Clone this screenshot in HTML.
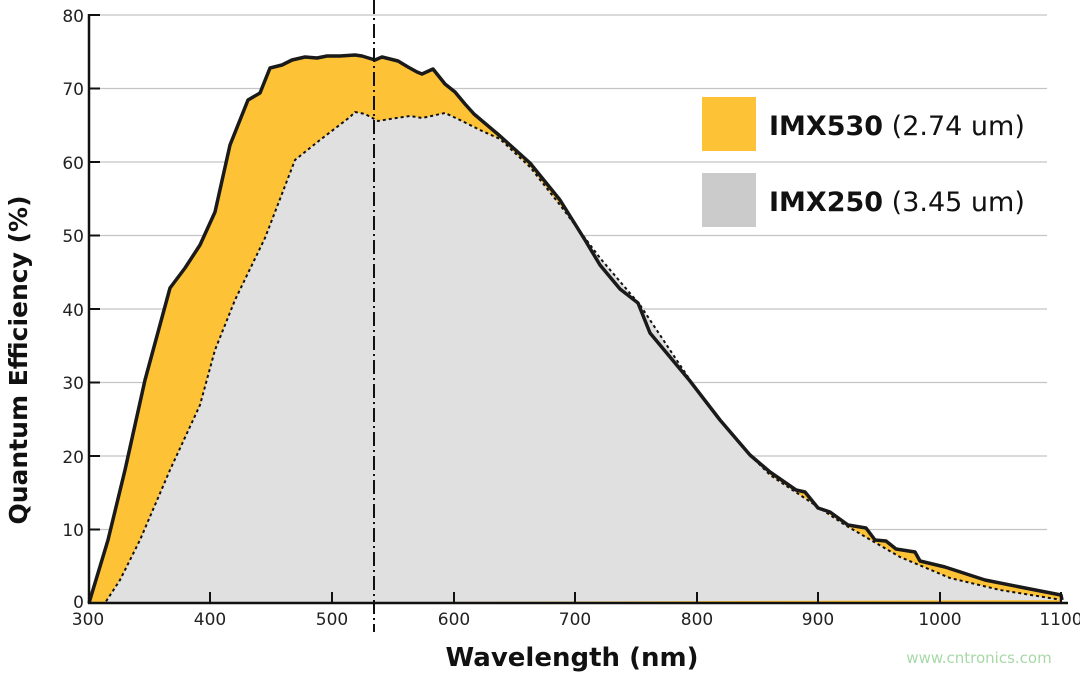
<!DOCTYPE html>
<html><head><style>
html,body{margin:0;padding:0;background:#fff;}
svg{display:block;font-family:"DejaVu Sans","Liberation Sans",sans-serif;}
</style></head><body>
<svg width="1080" height="673" viewBox="0 0 1080 673">
<g stroke="#c4c4c4" stroke-width="1.2">
<line x1="89" y1="15" x2="1047" y2="15"/><line x1="89" y1="88.5" x2="1047" y2="88.5"/>
<line x1="89" y1="162" x2="1047" y2="162"/><line x1="89" y1="235.5" x2="1047" y2="235.5"/>
<line x1="89" y1="309" x2="1047" y2="309"/><line x1="89" y1="382.5" x2="1047" y2="382.5"/>
<line x1="89" y1="456" x2="1047" y2="456"/><line x1="89" y1="529.5" x2="1047" y2="529.5"/>
</g>
<path fill="#fec237" d="M89,603 L108,540 L125,470 L145,380 L170,288 L185,268 L200,245 L215,212 L230,145 L248,100 L260,93 L270,68 L282,65 L292,60 L305,57 L317,58 L327,56 L340,56 L355,55 L362,56 L375,60 L382,57 L398,61 L408,67 L417,72 L422,74 L433,69 L445,84 L455,92 L465,104 L474,114 L500,136 L530,163 L560,200 L585,240 L600,265 L620,289 L638,303 L650,333 L690,381 L720,420 L750,455 L770,472 L796,490 L805,492 L818,508 L830,512 L848,525 L866,528 L875,540 L886,541 L896,549 L915,552 L920,561 L945,567 L985,580 L1020,587 L1061,595 L1062,603 Z"/>
<path fill="#e0e0e0" stroke="#111" stroke-width="2" stroke-dasharray="3,3" d="M89,603 L105,603 L120,580 L140,540 L170,470 L200,405 L215,350 L235,300 L265,238 L295,160 L320,140 L350,117 L355,112 L365,114 L378,121 L390,119 L410,116 L422,118 L445,113 L460,120 L480,130 L500,139 L530,167 L560,205 L600,258 L640,305 L690,380 L720,420 L750,455 L770,475 L800,495 L845,525 L900,557 L950,578 L1000,590 L1062,600"/>
<path fill="none" stroke="#1a1a1a" stroke-width="3.5" stroke-linejoin="round" d="M89,603 L108,540 L125,470 L145,380 L170,288 L185,268 L200,245 L215,212 L230,145 L248,100 L260,93 L270,68 L282,65 L292,60 L305,57 L317,58 L327,56 L340,56 L355,55 L362,56 L375,60 L382,57 L398,61 L408,67 L417,72 L422,74 L433,69 L445,84 L455,92 L465,104 L474,114 L500,136 L530,163 L560,200 L585,240 L600,265 L620,289 L638,303 L650,333 L690,381 L720,420 L750,455 L770,472 L796,490 L805,492 L818,508 L830,512 L848,525 L866,528 L875,540 L886,541 L896,549 L915,552 L920,561 L945,567 L985,580 L1020,587 L1061,595 L1062,600"/>
<line x1="374" y1="0" x2="374" y2="632" stroke="#111" stroke-width="2" stroke-dasharray="14,4,2,4"/>
<g stroke="#111" stroke-width="2.5">
<line x1="89" y1="14" x2="89" y2="604"/><line x1="88" y1="603" x2="1068" y2="603"/>
</g>
<g stroke="#111" stroke-width="2">
<line x1="89" y1="15" x2="100" y2="15"/><line x1="89" y1="88.5" x2="100" y2="88.5"/><line x1="89" y1="162" x2="100" y2="162"/><line x1="89" y1="235.5" x2="100" y2="235.5"/><line x1="89" y1="309" x2="100" y2="309"/><line x1="89" y1="382.5" x2="100" y2="382.5"/><line x1="89" y1="456" x2="100" y2="456"/><line x1="89" y1="529.5" x2="100" y2="529.5"/>
<line x1="210" y1="592" x2="210" y2="603"/><line x1="332" y1="592" x2="332" y2="603"/><line x1="454" y1="592" x2="454" y2="603"/><line x1="575" y1="592" x2="575" y2="603"/><line x1="697" y1="592" x2="697" y2="603"/><line x1="818" y1="592" x2="818" y2="603"/><line x1="940" y1="592" x2="940" y2="603"/><line x1="1061" y1="592" x2="1061" y2="603"/>
</g>
<g font-size="17" fill="#222" text-anchor="end">
<text x="84" y="22">80</text><text x="84" y="95">70</text><text x="84" y="169">60</text><text x="84" y="242">50</text><text x="84" y="316">40</text><text x="84" y="389">30</text><text x="84" y="463">20</text><text x="84" y="536">10</text><text x="84" y="608">0</text>
</g>
<g font-size="17" fill="#222" text-anchor="middle">
<text x="88" y="625">300</text><text x="210" y="625">400</text><text x="332" y="625">500</text><text x="454" y="625">600</text><text x="575" y="625">700</text><text x="697" y="625">800</text><text x="818" y="625">900</text><text x="940" y="625">1000</text><text x="1061" y="625">1100</text>
</g>
<text x="572" y="666" font-size="26" font-weight="bold" fill="#111" text-anchor="middle">Wavelength (nm)</text>
<text transform="translate(27,360) rotate(-90)" font-size="25" font-weight="bold" fill="#111" text-anchor="middle">Quantum Efficiency (%)</text>
<rect x="702" y="97" width="54" height="54" fill="#fec237"/>
<rect x="702" y="173" width="54" height="54" fill="#cbcbcb"/>
<text x="769" y="135" font-size="27" fill="#111"><tspan font-weight="bold">IMX530</tspan> (2.74 um)</text>
<text x="769" y="211" font-size="27" fill="#111"><tspan font-weight="bold">IMX250</tspan> (3.45 um)</text>
<text x="979" y="663" font-size="15" fill="#a8d8a8" text-anchor="middle">www.cntronics.com</text>
</svg>
</body></html>
